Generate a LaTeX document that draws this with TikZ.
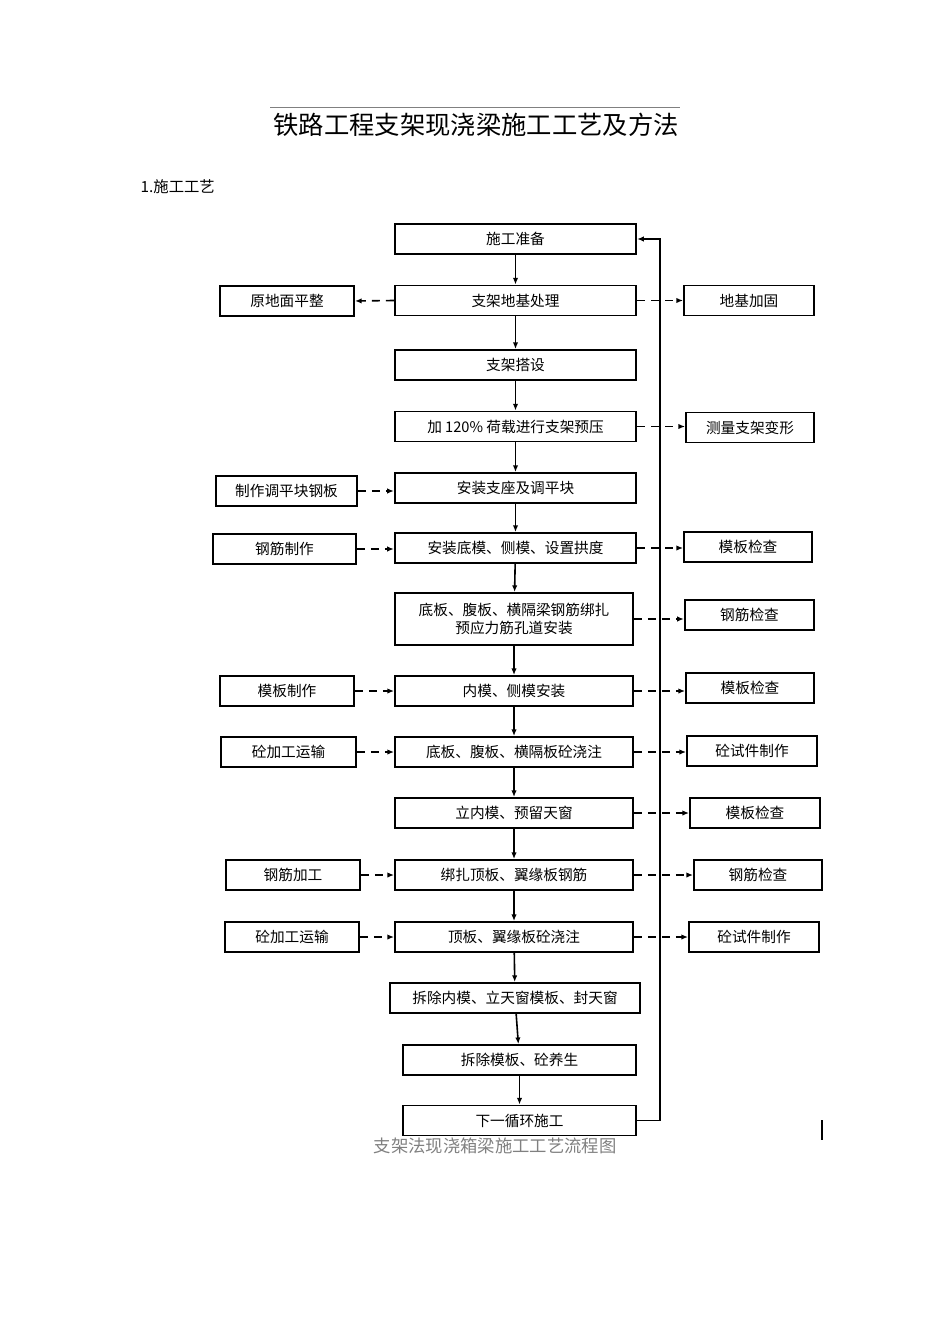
\documentclass[tikz,border=0pt]{standalone}
\usepackage{fontspec}
\setmainfont{Noto Sans CJK SC}
\usetikzlibrary{arrows.meta}
\tikzset{
  stage/.style={draw, line width=1.4pt, minimum height=22.5pt, inner sep=1pt, font=\fontsize{11}{13}\selectfont},
  flow/.style={line width=1.2pt, -{Latex[length=5pt,width=4pt]}},
  side/.style={line width=1.2pt, dash pattern=on 6pt off 4.5pt, -{Latex[length=5pt,width=4pt]}},
}
\begin{document}
\begin{tikzpicture}[x=0.75pt,y=-0.75pt]
\useasboundingbox (0,0) rectangle (950,1344);
%title%
\draw[line width=0.4pt,gray] (270,107) -- (680,107);
\node[font=\fontsize{19}{21}\selectfont] (title) at (476,125) {铁路工程支架现浇梁施工工艺及方法};
\node[anchor=west,font=\fontsize{11.5}{13}\selectfont] (sec) at (136,187) {1.施工工艺};
%center column%
\node[stage,minimum width=181pt] (c1) at (515.5,239) {施工准备};
\node[stage,minimum width=181pt] (c2) at (515.5,300.5) {支架地基处理};
\node[stage,minimum width=181pt] (c3) at (515.5,365) {支架搭设};
\node[stage,minimum width=181pt] (c4) at (515.5,426.5) {加 120\% 荷载进行支架预压};
\node[stage,minimum width=181pt] (c5) at (515.5,488) {安装支座及调平块};
\node[stage,minimum width=181pt] (c6) at (515.5,548) {安装底模、侧模、设置拱度};
\node[stage,minimum width=178.5pt,minimum height=39pt,align=center] (c7) at (514,619) {底板、腹板、横隔梁钢筋绑扎\\预应力筋孔道安装};
\node[stage,minimum width=178.5pt] (c8) at (514,691) {内模、侧模安装};
\node[stage,minimum width=178.5pt] (c9) at (514,752) {底板、腹板、横隔板砼浇注};
\node[stage,minimum width=178.5pt] (c10) at (514,813) {立内模、预留天窗};
\node[stage,minimum width=178.5pt] (c11) at (514,875) {绑扎顶板、翼缘板钢筋};
\node[stage,minimum width=178.5pt] (c12) at (514,937) {顶板、翼缘板砼浇注};
\node[stage,minimum width=187.5pt] (c13) at (515,998) {拆除内模、立天窗模板、封天窗};
\node[stage,minimum width=175pt] (c14) at (519.5,1060) {拆除模板、砼养生};
\node[stage,minimum width=175pt] (c15) at (519.5,1120.5) {下一循环施工};
%left column%
\node[stage,minimum width=100.5pt] (l1) at (287,301) {原地面平整};
\node[stage,minimum width=105.5pt] (l2) at (286.5,491) {制作调平块钢板};
\node[stage,minimum width=107pt] (l3) at (284.5,549) {钢筋制作};
\node[stage,minimum width=100.5pt] (l4) at (287,691) {模板制作};
\node[stage,minimum width=101pt] (l5) at (288.5,752) {砼加工运输};
\node[stage,minimum width=100.5pt] (l6) at (293,875) {钢筋加工};
\node[stage,minimum width=100.5pt] (l7) at (292,937) {砼加工运输};
%right column%
\node[stage,minimum width=97.5pt] (r1) at (749,300.5) {地基加固};
\node[stage,minimum width=96pt] (r2) at (750,427.5) {测量支架变形};
\node[stage,minimum width=96pt] (r3) at (748,547) {模板检查};
\node[stage,minimum width=97pt] (r4) at (749.5,615) {钢筋检查};
\node[stage,minimum width=96pt] (r5) at (750,688) {模板检查};
\node[stage,minimum width=97.5pt] (r6) at (752,751) {砼试件制作};
\node[stage,minimum width=97.5pt] (r7) at (755,813) {模板检查};
\node[stage,minimum width=96pt] (r8) at (758,875) {钢筋检查};
\node[stage,minimum width=97.5pt] (r9) at (754,937) {砼试件制作};
%connectors%
\foreach \a/\b in {c1/c2,c2/c3,c3/c4,c4/c5,c5/c6,c6/c7,c7/c8,c8/c9,c9/c10,c10/c11,c11/c12,c12/c13,c13/c14,c14/c15}
  \draw[flow] (\a) -- (\b);
\coordinate (loop) at (660,0);
\draw[flow] (c15.east) -| (loop |- c1.east) -- (c1.east);
\draw[side] (c2.west) -- (l1.east);
\foreach \a/\b in {l2/c5,l3/c6,l4/c8,l5/c9,l6/c11,l7/c12}
  \draw[side] (\a.east) -- (\a.east -| \b.west);
\foreach \a/\b in {c2/r1,c4/r2,c6/r3,c7/r4,c8/r5,c9/r6,c10/r7,c11/r8,c12/r9}
  \draw[side] (\a.east) -- (\a.east -| \b.west);
%caption%
\node[font=\fontsize{13}{15}\selectfont,text=gray] (cap) at (495,1146) {支架法现浇箱梁施工工艺流程图};
\coordinate (bar) at (822,1120);
\draw[line width=0.8pt] (bar) -- ++(0,20);
\end{tikzpicture}
\end{document}
